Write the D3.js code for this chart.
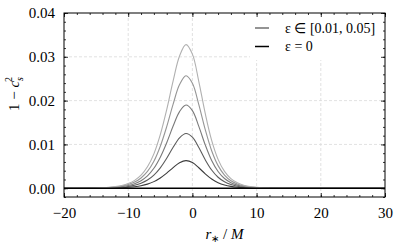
<!DOCTYPE html>
<html><head><meta charset="utf-8">
<script src="https://cdn.jsdelivr.net/npm/d3@7"></script>
<style>body{margin:0;background:#fff}svg{display:block}</style>
</head><body><svg id="c" width="399" height="247"></svg>
<script>
const rGrid = d3.range(-20, 31, 1);
const eps001 = [0,0,0,0.00001,0.00001,0.00002,0.00003,0.00004,0.00007,0.00012,0.00021,0.00035,0.00057,0.00094,0.00151,0.00235,0.00345,0.00471,0.00580,0.00630,0.00588,0.00468,0.00328,0.00210,0.00127,0.00074,0.00042,0.00024,0.00013,0.00007,0.00004,0.00002,0.00001,0.00001,0,0,0,0,0,0,0,0,0,0,0,0,0,0,0,0,0];
const eps002 = [0,0,0.00001,0.00001,0.00002,0.00003,0.00005,0.00009,0.00014,0.00024,0.00041,0.00069,0.00114,0.00186,0.00299,0.00466,0.00684,0.00934,0.01151,0.01249,0.01166,0.00928,0.00650,0.00416,0.00251,0.00146,0.00083,0.00047,0.00026,0.00015,0.00008,0.00005,0.00003,0.00001,0.00001,0,0,0,0,0,0,0,0,0,0,0,0,0,0,0,0];
const eps003 = [0,0.00001,0.00001,0.00002,0.00003,0.00005,0.00008,0.00013,0.00022,0.00037,0.00062,0.00104,0.00173,0.00283,0.00455,0.00709,0.01039,0.01419,0.01749,0.01899,0.01773,0.01411,0.00989,0.00633,0.00382,0.00222,0.00127,0.00071,0.00040,0.00022,0.00013,0.00007,0.00004,0.00002,0.00001,0.00001,0,0,0,0,0,0,0,0,0,0,0,0,0,0,0];
const eps004 = [0,0.00001,0.00001,0.00002,0.00004,0.00006,0.00010,0.00018,0.00030,0.00050,0.00084,0.00141,0.00234,0.00383,0.00615,0.00959,0.01406,0.01920,0.02366,0.02568,0.02398,0.01908,0.01337,0.00856,0.00516,0.00301,0.00171,0.00097,0.00054,0.00030,0.00017,0.00009,0.00005,0.00003,0.00002,0.00001,0.00001,0,0,0,0,0,0,0,0,0,0,0,0,0,0];
const eps005 = [0.00001,0.00001,0.00002,0.00003,0.00005,0.00008,0.00013,0.00022,0.00038,0.00064,0.00107,0.00180,0.00298,0.00489,0.00785,0.01223,0.01795,0.02450,0.03019,0.03278,0.03061,0.02435,0.01707,0.01092,0.00659,0.00384,0.00219,0.00123,0.00069,0.00039,0.00022,0.00012,0.00007,0.00004,0.00002,0.00001,0.00001,0,0,0,0,0,0,0,0,0,0,0,0,0,0];
const eps0 = rGrid.map(() => 0);
const seriesList = [eps001, eps002, eps003, eps004, eps005];
const seriesColors = ["#3c3c3c", "#5c5c5c", "#7a7a7a", "#959595", "#b0b0b0"];
const xTicks = [-20, -10, 0, 10, 20, 30];
const yTicks = [0, 0.01, 0.02, 0.03, 0.04];
const legendLabels = ["ε ∈ [0.01, 0.05]", "ε = 0"];

const FONT = "Liberation Serif";
const svg = d3.select("#c");
const L = 64, R = 385, T = 13, B = 197;
const x = d3.scaleLinear().domain([-20, 30]).range([L, R]);
const y = d3.scaleLinear().domain([-0.002, 0.04]).range([B, T]);
const FS = 15;

// grid
const grid = svg.append("g").attr("stroke", "#d9d9d9").attr("stroke-width", 0.8).attr("stroke-dasharray", "3,2");
xTicks.slice(1, -1).forEach(t => grid.append("line").attr("x1", x(t)).attr("x2", x(t)).attr("y1", T).attr("y2", B));
yTicks.slice(1, -1).forEach(t => grid.append("line").attr("x1", L).attr("x2", R).attr("y1", y(t)).attr("y2", y(t)));

// curves
const line = d3.line().x((d, i) => x(rGrid[i])).y(d => y(d)).curve(d3.curveCatmullRom);
svg.append("clipPath").attr("id", "pc").append("rect").attr("x", L).attr("y", T).attr("width", R - L).attr("height", B - T);
const plot = svg.append("g").attr("clip-path", "url(#pc)");
seriesList.forEach((s, k) => plot.append("path").attr("d", line(s)).attr("fill", "none").attr("stroke", seriesColors[k]).attr("stroke-width", 1.1));
plot.append("path").attr("d", line(eps0)).attr("fill", "none").attr("stroke", "#000").attr("stroke-width", 1.5);

// legend
const lg = svg.append("g");
lg.append("rect").attr("x", 250).attr("y", 15).attr("width", 133).attr("height", 45).attr("fill", "#fff");
[[28, "#3c3c3c", 1.1], [46.5, "#000", 1.5]].forEach(([yy, c, w], i) => {
  lg.append("line").attr("x1", 255).attr("x2", 269).attr("y1", yy).attr("y2", yy).attr("stroke", c).attr("stroke-width", w);
  lg.append("text").attr("x", 285).attr("y", yy + 4.5).style("font-size", "14px").style("font-family", FONT).text(legendLabels[i]);
});

// axes
const minorX = d3.range(-20, 31, 2);
const minorY = d3.range(-1, 21, 1).map(k => k * 0.002);
const fmtX = d => d < 0 ? "−" + Math.abs(d) : String(d);
const axes = [
  [d3.axisBottom(x).tickValues(xTicks).tickSize(-4).tickFormat(fmtX), `translate(0,${B})`, "xb"],
  [d3.axisBottom(x).tickValues(minorX).tickSize(-2).tickFormat(""), `translate(0,${B})`, ""],
  [d3.axisTop(x).tickValues(xTicks).tickSize(-4).tickFormat(""), `translate(0,${T})`, ""],
  [d3.axisTop(x).tickValues(minorX).tickSize(-2).tickFormat(""), `translate(0,${T})`, ""],
  [d3.axisLeft(y).tickValues(yTicks).tickSize(-4).tickFormat(d3.format(".2f")), `translate(${L},0)`, "yl"],
  [d3.axisLeft(y).tickValues(minorY).tickSize(-2).tickFormat(""), `translate(${L},0)`, ""],
  [d3.axisRight(y).tickValues(yTicks).tickSize(-4).tickFormat(""), `translate(${R},0)`, ""],
  [d3.axisRight(y).tickValues(minorY).tickSize(-2).tickFormat(""), `translate(${R},0)`, ""]
];
axes.forEach(([a, tr, kind]) => {
  const g = svg.append("g").attr("transform", tr).call(a);
  g.attr("font-family", null).attr("font-size", null);
  g.select(".domain").remove();
  g.selectAll("line").attr("stroke", "#000").attr("stroke-width", 0.8);
  const t = g.selectAll("text").style("font-size", FS + "px").style("font-family", FONT).attr("fill", "#000");
  if (kind === "xb") t.attr("y", 10).attr("dy", "0.71em");
  if (kind === "yl") t.attr("x", -9);
});
svg.append("rect").attr("x", L).attr("y", T).attr("width", R - L).attr("height", B - T).attr("fill", "none").attr("stroke", "#000").attr("stroke-width", 1);

// axis labels
const xlab = svg.append("text").attr("x", (L + R) / 2).attr("y", 239).attr("text-anchor", "middle").style("font-size", FS + "px").style("font-family", FONT);
xlab.append("tspan").style("font-style", "italic").text("r");
xlab.append("tspan").style("font-size", "10px").attr("dy", 3).text("∗");
xlab.append("tspan").attr("dy", -3).text(" / ");
xlab.append("tspan").style("font-style", "italic").text("M");

const ylab = svg.append("text").attr("transform", `translate(19,${(T + B) / 2 - 11}) rotate(-90)`).attr("text-anchor", "middle").style("font-size", FS + "px").style("font-family", FONT);
ylab.append("tspan").text("1 − ");
ylab.append("tspan").style("font-style", "italic").text("c");
ylab.append("tspan").style("font-size", "10px").style("font-style", "italic").attr("dy", 4).text("s");
ylab.append("tspan").style("font-size", "10px").attr("dy", -11).attr("dx", -5).text("2");
</script></body></html>
